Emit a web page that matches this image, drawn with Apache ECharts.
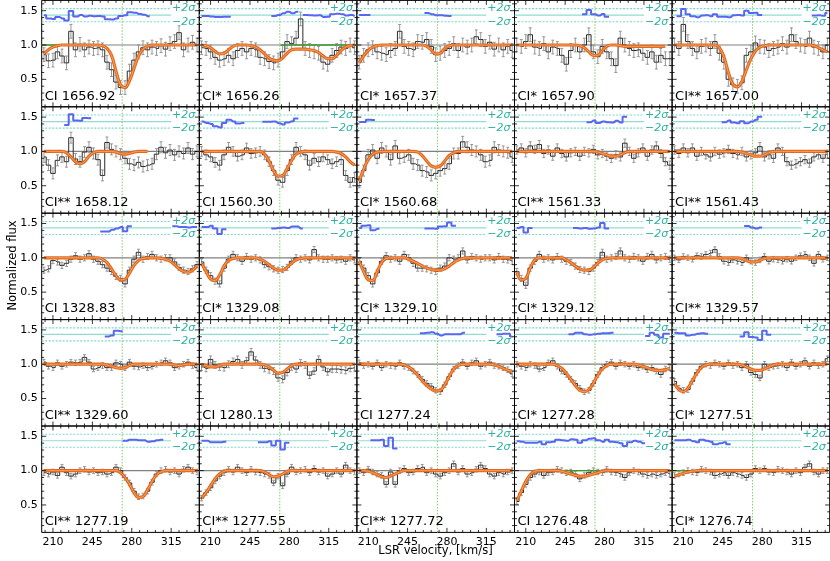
<!DOCTYPE html>
<html>
<head>
<meta charset="utf-8">
<script src="https://cdn.jsdelivr.net/npm/echarts@6/dist/echarts.min.js"></script>
<style>
html,body{margin:0;padding:0;background:#fff;}
#chart_1{width:830px;height:561px;}
</style>
</head>
<body>
<div id="chart_1"></div>
<script>
// velocity bin centres, km/s
var vel = [202,206,210,214,218,222,226,230,234,238,242,246,250,254,258,262,266,270,274,278,282,286,290,294,298,302,306,310,314,318,322,326,330,334,338];

var lineNames = ['CI 1656.92','CI* 1656.26','CI* 1657.37','CI* 1657.90','CI** 1657.00',
	'CI** 1658.12','CI 1560.30','CI* 1560.68','CI** 1561.33','CI** 1561.43',
	'CI 1328.83','CI* 1329.08','CI* 1329.10','CI* 1329.12','CI** 1329.57',
	'CI** 1329.60','CI 1280.13','CI 1277.24','CI* 1277.28','CI* 1277.51',
	'CI** 1277.19','CI** 1277.55','CI** 1277.72','CI 1276.48','CI* 1276.74'];

// normalized flux per panel (same order as lineNames)
var flux = [
	[0.86,0.77,0.78,0.9,0.84,0.74,1.2,0.93,1.01,0.93,0.97,0.95,0.96,0.93,0.75,0.64,0.46,0.38,0.38,0.62,0.78,0.9,0.96,0.93,0.97,0.95,0.99,0.94,1.02,1.05,1.18,0.93,1.0,1.04,1.0],
	[0.96,0.95,0.9,0.82,0.78,0.8,0.85,0.8,0.92,0.95,0.9,0.95,0.93,0.82,0.8,0.76,0.74,0.78,0.9,1.05,1.02,1.1,1.38,0.95,0.92,0.9,0.88,0.75,0.72,0.85,0.92,0.97,0.95,1.0,0.96],
	[0.75,0.85,0.93,0.96,0.9,0.88,0.86,0.92,0.95,1.2,0.98,0.95,0.93,1.05,1.04,1.08,0.98,0.86,0.88,0.92,0.95,1.02,0.92,1.0,0.97,1.0,1.12,1.08,0.98,1.04,0.94,1.0,0.93,0.98,0.92],
	[1.0,0.98,1.05,1.15,0.97,0.95,1.02,0.9,0.97,0.95,0.85,0.72,0.92,1.0,0.9,1.0,1.15,0.9,0.83,0.98,0.9,0.8,0.7,1.1,1.0,0.95,0.92,0.93,0.88,0.82,0.9,0.75,0.85,0.8,0.8],
	[1.0,0.95,1.3,1.05,0.95,0.9,0.98,1.0,0.95,1.05,0.88,0.75,0.5,0.42,0.4,0.45,0.85,0.9,1.03,0.98,0.97,0.92,0.95,0.97,1.02,0.97,1.15,1.05,1.0,0.98,1.1,0.97,0.95,0.9,1.0],
	[0.92,0.8,0.68,0.87,0.92,0.85,1.2,0.89,0.85,0.99,1.06,0.97,0.88,0.65,1.13,1.03,1.0,0.96,0.9,0.82,0.8,0.84,0.78,0.8,0.82,0.96,1.06,0.98,1.02,0.95,1.0,0.97,1.05,0.96,1.0],
	[1.0,0.95,0.92,0.84,0.8,0.95,1.06,1.0,0.93,0.95,1.05,0.97,0.98,1.0,0.95,0.85,0.72,0.58,0.55,0.72,0.88,1.06,1.0,0.95,0.8,0.9,0.85,0.92,0.88,0.82,0.85,0.88,0.65,0.55,0.62],
	[0.55,0.72,0.95,1.02,0.9,1.05,1.0,0.88,1.08,0.9,0.92,0.95,0.82,0.8,0.72,0.7,0.65,0.68,0.72,0.75,0.82,0.97,0.97,1.14,1.06,1.02,1.0,0.95,0.85,0.87,1.06,1.02,1.0,0.98,0.92],
	[1.02,1.05,0.98,1.08,1.03,1.1,0.97,1.02,0.93,1.05,0.97,0.92,0.98,1.0,0.93,1.0,0.98,1.03,0.95,0.97,0.93,0.9,0.95,0.92,1.12,1.0,0.9,0.98,1.05,0.93,1.02,1.08,0.97,0.85,0.8],
	[1.02,0.97,1.05,0.98,1.05,0.93,1.0,0.95,0.92,1.0,0.96,0.98,1.03,0.97,0.95,1.0,0.92,0.95,0.98,1.07,0.92,0.95,0.9,1.05,1.0,0.85,0.8,0.82,0.85,0.88,0.83,0.92,0.95,0.9,0.96],
	[0.82,0.84,0.96,0.94,0.89,0.92,0.98,1.03,0.98,1.0,1.06,0.98,0.95,0.9,0.85,0.8,0.73,0.7,0.62,0.82,0.98,1.08,0.98,1.02,1.05,1.0,0.98,1.0,1.0,0.94,0.86,0.82,0.8,0.84,0.9],
	[0.94,0.82,0.74,0.66,0.62,0.85,0.98,1.05,1.0,0.95,1.02,0.98,1.0,0.97,0.9,0.87,0.84,0.82,0.83,0.86,0.95,1.0,0.98,1.0,0.97,1.12,1.0,0.98,0.98,1.0,0.97,0.98,0.95,1.0,0.97],
	[0.95,0.85,0.74,0.62,0.78,0.95,1.03,0.98,1.0,0.95,1.05,1.0,0.92,0.85,0.85,0.84,0.82,0.8,0.85,0.88,1.0,0.98,1.0,1.1,0.97,1.02,1.0,0.98,1.0,1.0,0.97,1.02,0.98,0.97,0.95],
	[0.8,0.7,0.6,0.85,0.95,1.05,0.98,1.0,0.97,1.02,0.98,0.95,0.93,0.88,0.83,0.82,0.8,0.85,0.93,1.08,0.98,1.0,1.02,1.1,1.0,0.98,1.02,1.0,0.95,1.02,1.05,0.97,1.0,1.02,0.98],
	[1.0,0.97,1.02,1.0,0.98,1.03,1.02,1.05,1.07,1.12,1.02,0.95,0.93,0.97,0.95,0.93,1.0,0.95,0.93,0.97,1.02,0.95,0.98,0.97,0.95,0.98,0.95,1.0,1.03,1.05,1.0,0.92,1.05,0.98,1.0],
	[1.03,0.97,0.95,1.02,0.97,1.0,1.03,1.02,1.03,1.1,1.03,0.93,0.95,0.98,0.95,0.95,1.02,1.0,0.95,1.03,0.97,0.96,0.98,0.95,0.97,1.0,1.02,1.05,1.02,0.95,0.97,1.0,1.03,0.98,0.95],
	[0.96,0.94,1.07,0.99,0.96,0.95,1.0,1.04,1.07,0.99,1.05,1.18,1.06,0.99,0.94,0.92,0.9,0.8,0.78,0.88,0.96,0.93,1.02,0.99,0.84,0.9,1.07,0.96,0.89,0.93,0.93,0.92,0.91,0.94,0.95],
	[1.02,0.98,1.0,0.97,1.02,0.95,1.0,0.98,0.97,1.02,0.97,0.95,0.9,0.85,0.78,0.72,0.68,0.62,0.6,0.7,0.82,0.93,0.98,1.03,0.97,1.02,1.05,0.97,1.0,1.03,0.98,0.97,0.95,0.92,0.86],
	[1.0,0.97,0.95,1.0,0.98,0.93,0.95,1.02,1.05,0.97,0.9,0.85,0.78,0.72,0.65,0.6,0.62,0.72,0.85,0.95,1.0,1.03,0.97,1.02,1.0,0.97,1.0,0.95,0.97,0.92,0.95,0.9,0.85,0.93,0.95],
	[0.75,0.65,0.62,0.63,0.75,0.88,0.97,1.0,0.98,1.02,1.0,0.97,1.02,0.98,1.0,0.95,1.0,0.88,0.85,0.8,1.0,0.95,0.97,0.98,1.0,0.95,1.03,0.97,1.0,1.05,0.97,1.02,0.98,1.0,1.08],
	[0.97,0.95,0.98,0.93,1.05,0.97,0.92,0.95,1.0,1.02,0.98,1.0,0.97,0.98,0.95,0.97,1.05,1.0,0.9,0.82,0.7,0.62,0.63,0.7,0.83,0.95,1.0,1.02,0.98,1.0,0.95,1.02,1.05,1.0,0.98],
	[0.6,0.68,0.75,0.85,0.92,0.97,1.02,0.98,1.05,1.0,0.97,1.02,0.98,0.97,0.95,0.93,0.82,0.92,0.78,0.95,1.05,0.98,1.0,1.02,0.97,1.03,0.98,1.0,0.92,0.95,1.0,0.95,1.08,1.0,0.98],
	[1.0,0.97,1.02,0.98,0.95,0.93,0.8,0.98,0.8,1.0,1.03,0.97,0.98,1.03,1.05,0.97,1.0,0.95,0.92,0.97,1.0,1.1,0.98,1.03,0.95,0.97,1.02,1.08,1.03,0.95,0.92,0.97,0.95,0.98,1.0],
	[0.55,0.68,0.8,0.9,0.95,0.98,0.93,0.97,0.98,1.02,1.0,0.97,0.98,0.95,0.88,0.93,0.97,1.0,0.98,0.97,1.02,0.98,0.97,0.95,0.9,0.97,1.0,0.98,0.95,0.93,0.95,0.93,0.95,0.97,0.95],
	[0.93,0.95,0.97,1.0,0.98,0.97,1.02,1.0,0.98,0.93,0.95,0.97,0.93,0.97,0.95,0.93,0.9,0.95,1.03,1.0,1.03,0.98,0.97,1.02,1.0,0.98,0.95,1.0,0.97,1.05,1.1,0.98,0.95,1.0,1.0]
];

// 1 sigma flux error per panel
var fluxErr = [0.1,0.1,0.1,0.1,0.1, 0.08,0.07,0.08,0.06,0.06, 0.045,0.045,0.045,0.045,0.04, 0.04,0.05,0.04,0.04,0.04, 0.04,0.04,0.04,0.04,0.04];

// fitted profile per panel, null = not drawn
var model = [
	[0.87,0.93,0.97,0.99,1,1,1,1,1,1,1,1,1,0.99,0.95,0.85,0.62,0.42,0.38,0.48,0.66,0.84,0.94,0.98,1,1,1,1,1,1,1,1,1,1,1],
	[1,0.99,0.96,0.91,0.87,0.88,0.93,0.98,1,1,1,0.99,0.97,0.93,0.87,0.81,0.78,0.77,0.81,0.88,0.93,0.94,0.94,0.94,0.93,0.92,0.89,0.84,0.8,0.8,0.85,0.92,0.97,0.99,1],
	[0.74,0.84,0.92,0.97,0.99,1,1,1,1,1,1,1,1,1,1,0.98,0.93,0.87,0.88,0.95,0.99,1,1,1,1,1,1,1,1,1,1,1,1,1,1],
	[1,1,1,1,1,1,1,1,1,1,1,1,1,1,0.99,0.96,0.9,0.85,0.85,0.92,0.98,1,1,0.99,0.98,0.98,0.98,0.98,0.98,0.98,0.98,0.98,0.98,0.98,null],
	[1,1,1,1,1,1,1,1,1,1,0.96,0.83,0.6,0.43,0.39,0.47,0.64,0.8,0.91,0.97,0.99,1,1,1,1,1,1,1,1,1,1,0.99,0.96,0.93,0.9],
	[1,1,1,1,1,0.98,0.92,0.85,0.82,0.85,0.93,0.98,1,1,1,1,0.99,0.97,0.96,0.97,0.99,1,1,1,null,null,null,null,null,null,null,null,null,null,null],
	[1,1,1,1,1,1,1,1,1,1,1,1,1,1,0.96,0.86,0.72,0.64,0.65,0.75,0.87,0.96,0.99,1,1,1,1,1,1,1,0.99,0.97,0.92,0.85,0.8],
	[0.57,0.74,0.88,0.96,0.99,1,1,1,1,1,1,1,1,0.99,0.94,0.86,0.79,0.77,0.79,0.86,0.94,0.98,1,1,1,1,1,1,1,1,1,1,1,1,1],
	[1,1,1,1,1,1,1,1,1,1,1,1,1,1,1,1,1,1,0.99,0.97,0.95,0.93,0.93,0.95,0.98,1,1,1,1,1,1,1,1,1,1],
	[1,1,1,1,1,1,1,1,1,1,1,1,1,1,1,0.99,0.97,0.95,0.93,0.93,0.95,0.98,1,1,1,1,1,1,1,1,1,1,1,1,1],
	[1,1,1,1,1,1,1,1,1,1,1,1,1,0.98,0.93,0.84,0.74,0.68,0.69,0.78,0.89,0.96,0.99,1,1,1,0.99,0.98,0.95,0.9,0.84,0.8,0.79,0.82,0.88],
	[0.92,0.8,0.69,0.67,0.75,0.88,0.96,0.99,1,1,1,1,1,0.98,0.95,0.9,0.85,0.82,0.82,0.86,0.92,0.97,0.99,1,1,1,1,1,1,1,1,1,1,1,1],
	[0.95,0.8,0.68,0.67,0.8,0.93,0.99,1,1,1,1,0.98,0.95,0.92,0.88,0.85,0.83,0.82,0.82,0.84,0.88,0.93,0.97,0.99,1,1,1,1,1,1,1,1,1,1,1],
	[0.8,0.68,0.7,0.85,0.97,1,1,1,1,1,1,0.97,0.93,0.88,0.84,0.82,0.82,0.86,0.92,0.97,0.99,1,1,1,1,1,1,1,1,1,1,1,1,1,1],
	[1,1,1,1,1,1,1,1,1,1,1,1,1,1,1,0.99,0.96,0.94,0.94,0.96,0.99,1,1,1,1,1,1,1,1,1,1,1,1,1,1],
	[1,1,1,1,1,1,1,1,1,1,1,1,1,1,0.99,0.97,0.95,0.94,0.95,0.98,1,1,1,1,1,1,1,1,1,0.99,0.98,0.99,1,1,1],
	[1,0.98,0.96,0.96,0.98,1,1,1,1,1,1,1,1,1,0.99,0.96,0.91,0.87,0.88,0.93,0.98,1,1,1,1,1,1,1,1,1,1,1,1,1,1],
	[1,1,1,1,1,1,1,1,1,1,0.99,0.96,0.91,0.84,0.76,0.69,0.64,0.61,0.62,0.7,0.82,0.93,0.98,1,1,1,1,1,1,1,0.99,0.97,0.94,0.91,0.9],
	[1,1,1,1,1,1,1,1,1,0.98,0.94,0.87,0.78,0.69,0.62,0.6,0.63,0.72,0.84,0.93,0.98,1,1,1,1,1,1,0.99,0.97,0.95,0.92,0.91,0.91,0.92,0.94],
	[0.72,0.63,0.6,0.65,0.76,0.87,0.95,0.99,1,1,1,1,1,1,1,0.99,0.96,0.93,0.91,0.91,0.93,0.96,0.99,1,1,1,1,1,1,1,1,1,1,1,1],
	[1,1,1,1,1,1,1,1,1,1,1,1,1,1,1,1,1,0.97,0.9,0.8,0.68,0.61,0.62,0.72,0.84,0.94,0.98,1,1,1,1,1,1,1,1],
	[0.6,0.68,0.78,0.88,0.95,0.99,1,1,1,1,1,1,1,1,0.98,0.94,0.91,0.92,0.95,0.99,1,1,1,1,1,1,1,1,1,1,1,1,1,1,1],
	[1,1,0.99,0.97,0.94,0.91,0.9,0.92,0.95,0.98,1,1,1,1,1,1,1,1,1,1,1,1,1,1,1,1,1,1,1,1,1,1,1,1,1],
	[0.56,0.7,0.84,0.94,0.99,1,1,1,1,1,0.99,0.97,0.95,0.93,0.92,0.92,0.93,0.95,0.97,0.99,1,1,1,1,1,1,1,1,1,1,1,1,1,1,1],
	[0.92,0.94,0.96,0.98,0.99,1,1,1,1,1,1,1,1,1,1,1,1,1,1,1,1,1,1,1,1,1,1,1,1,1,1,1,1,1,1]
];

// velocity ranges where the residuals are shown
var residWin = [
	[[200,294]], [[200,227],[263,287],[292,340]], [[200,213],[259,283]], [[261,283]], [[204,281],[325,340]],
	[[221,245]], [[200,238],[258,287]], [[200,215]], [[264,298]], [[246,281]],
	[[253,280],[316,340]], [[200,224],[263,293]], [[200,220],[259,287]], [[200,216],[253,283]], [[265,278]],
	[[255,271]], [], [[256,295],[323,340]], [[248,287],[315,340]], [[200,232],[260,287]],
	[[271,307]], [[200,224],[253,278]], [[212,237]], [[200,315]], [[200,253]]
];

// green continuum segments
var contSpan = [[200,215],[272,340],null,null,null, null,null,null,null,null,
	null,null,null,null,null, null,null,null,null,null, null,null,null,[219,340],[200,213]];

var refVel = 271.5;
var xMajor = [210,245,280,315];
var xMinor = [203,217,224,231,238,252,259,266,273,287,294,301,308,322,329,336];
var yMajor = [0.5,1.0,1.5];
var yMinor = [0.2,0.3,0.4,0.6,0.7,0.8,0.9,1.1,1.2,1.3,1.4,1.6];
var sigLevels = [1.53,1.435,1.34];

var FONT = 'DejaVu Sans';
var GL = 41.7, GT = 0.4, GW = 157.6, GH = 106.4;
var VMIN = 200, VMAX = 340, FMIN = 0.1, FMAX = 1.65;
var SIG_END = 315;
var RES_SCALE = 0.03;

// inward ticks on all four sides, placed through the axis scales
function renderTicks(params, api) {
	var kids = [];
	var st = {stroke: '#000', lineWidth: 0.8};
	function xt(v, len) {
		var b = api.coord([v, FMIN]), t = api.coord([v, FMAX]);
		kids.push({type: 'line', shape: {x1: b[0], y1: b[1], x2: b[0], y2: b[1] - len}, style: st});
		kids.push({type: 'line', shape: {x1: t[0], y1: t[1], x2: t[0], y2: t[1] + len}, style: st});
	}
	function yt(v, len) {
		var l = api.coord([VMIN, v]), rr = api.coord([VMAX, v]);
		kids.push({type: 'line', shape: {x1: l[0], y1: l[1], x2: l[0] + len, y2: l[1]}, style: st});
		kids.push({type: 'line', shape: {x1: rr[0], y1: rr[1], x2: rr[0] - len, y2: rr[1]}, style: st});
	}
	xMajor.forEach(function (v) { xt(v, 4.5); });
	xMinor.forEach(function (v) { xt(v, 2.5); });
	yMajor.forEach(function (v) { yt(v, 4.5); });
	yMinor.forEach(function (v) { yt(v, 2.5); });
	return {type: 'group', children: kids};
}

function renderErr(params, api) {
	var v = api.value(0);
	var lo = api.coord([v, api.value(1)]);
	var hi = api.coord([v, api.value(2)]);
	var st = {stroke: '#8c8c8c', lineWidth: 0.9};
	return {type: 'group', children: [
		{type: 'line', shape: {x1: lo[0], y1: lo[1], x2: hi[0], y2: hi[1]}, style: st},
		{type: 'line', shape: {x1: lo[0] - 1.5, y1: lo[1], x2: lo[0] + 1.5, y2: lo[1]}, style: st},
		{type: 'line', shape: {x1: hi[0] - 1.5, y1: hi[1], x2: hi[0] + 1.5, y2: hi[1]}, style: st}
	]};
}

function inWin(v, wins) {
	for (var k = 0; k < wins.length; k++) {
		if (v >= wins[k][0] && v <= wins[k][1]) return true;
	}
	return false;
}

function buildOption() {
	var grids = [], xAxes = [], yAxes = [], series = [], graphics = [];
	var span = FMAX - FMIN;

	for (var p = 0; p < 25; p++) {
		var row = Math.floor(p / 5), col = p % 5;
		var pLeft = GL + col * GW, pTop = GT + row * GH;
		grids.push({left: pLeft, top: pTop, width: GW, height: GH, show: true, borderColor: '#000', borderWidth: 1});

		xAxes.push({
			type: 'value', gridIndex: p, min: VMIN, max: VMAX,
			axisLine: {show: false}, axisTick: {show: false}, splitLine: {show: false},
			axisLabel: {show: row === 4, customValues: xMajor, margin: 4, fontSize: 11, color: '#000', fontFamily: FONT}
		});
		yAxes.push({
			type: 'value', gridIndex: p, min: FMIN, max: FMAX,
			axisLine: {show: false}, axisTick: {show: false}, splitLine: {show: false},
			axisLabel: {show: col === 0, customValues: yMajor, margin: 4, fontSize: 11, color: '#000', fontFamily: FONT,
				formatter: function (v) { return Number(v).toFixed(1); }}
		});

		var f = flux[p], m = model[p], e = fluxErr[p];
		var pts = [], errs = [], mod = [], res = [];
		for (var i = 0; i < vel.length; i++) {
			pts.push([vel[i], f[i]]);
			errs.push([vel[i], f[i] - e, f[i] + e]);
			mod.push([vel[i], m[i]]);
			if (m[i] !== null && inWin(vel[i], residWin[p])) {
				var rv = sigLevels[1] + (f[i] - m[i]) / e * RES_SCALE;
				res.push([vel[i], Math.max(1.3, Math.min(1.57, rv))]);
			} else {
				res.push([vel[i], null]);
			}
		}
		var idx = {xAxisIndex: p, yAxisIndex: p};
		function add(s) { series.push(Object.assign(s, idx)); }

		add({type: 'custom', data: [[VMIN, FMIN]], renderItem: renderTicks, clip: false, silent: true, z: 10});

		// sigma band lines
		add({type: 'line', data: [[VMIN, sigLevels[0]], [SIG_END, sigLevels[0]]], symbol: 'none', silent: true, z: 1,
			lineStyle: {type: [2, 1.5], color: '#7dd8cf', width: 1.1}});
		add({type: 'line', data: [[VMIN, sigLevels[1]], [SIG_END, sigLevels[1]]], symbol: 'none', silent: true, z: 1,
			lineStyle: {type: 'solid', color: '#8fdcd4', width: 1.2}});
		add({type: 'line', data: [[VMIN, sigLevels[2]], [SIG_END, sigLevels[2]]], symbol: 'none', silent: true, z: 1,
			lineStyle: {type: [2, 1.5], color: '#7dd8cf', width: 1.1}});

		// unity level and reference velocity
		add({type: 'line', data: [[VMIN, 1], [VMAX, 1]], symbol: 'none', silent: true, z: 1,
			lineStyle: {color: '#808080', width: 1.2}});
		add({type: 'line', data: [[refVel, FMIN], [refVel, FMAX]], symbol: 'none', silent: true, z: 1,
			lineStyle: {color: '#80cc66', width: 1, type: [1.5, 1.5]}});

		add({type: 'custom', data: errs, renderItem: renderErr, clip: true, silent: true, z: 2});
		add({type: 'line', data: pts, step: 'middle', symbol: 'none', silent: true, z: 3,
			lineStyle: {color: '#2b2b2b', width: 1}});

		if (contSpan[p]) {
			add({type: 'line', data: [[contSpan[p][0], 1], [contSpan[p][1], 1]], symbol: 'none', silent: true, z: 4,
				lineStyle: {color: '#3c9a2c', width: 1.3}});
		}

		add({type: 'line', data: mod, smooth: 0.4, symbol: 'none', silent: true, z: 5,
			lineStyle: {color: '#e5681a', width: 3.2}});
		add({type: 'line', data: mod, smooth: 0.4, symbol: 'none', silent: true, z: 6,
			lineStyle: {color: '#f4b07a', width: 0.8}});

		add({type: 'line', data: res, step: 'middle', symbol: 'none', silent: true, z: 4,
			lineStyle: {color: '#5966f2', width: 2}});

		graphics.push({type: 'text', x: pLeft + 3, y: pTop + GH - 4, silent: true, z: 20,
			style: {text: lineNames[p], font: '13px "DejaVu Sans"', fill: '#000', align: 'left', verticalAlign: 'bottom'}});
		graphics.push({type: 'text', x: pLeft + GW - 4, y: pTop + (FMAX - sigLevels[0]) / span * GH, silent: true, z: 20,
			style: {text: '+2\u03c3', font: 'italic 11px "DejaVu Sans"', fill: '#2ab3a4', align: 'right', verticalAlign: 'middle'}});
		graphics.push({type: 'text', x: pLeft + GW - 4, y: pTop + (FMAX - sigLevels[2]) / span * GH, silent: true, z: 20,
			style: {text: '\u22122\u03c3', font: 'italic 11px "DejaVu Sans"', fill: '#2ab3a4', align: 'right', verticalAlign: 'middle'}});
	}

	graphics.push({type: 'text', x: 435.5, y: 551, silent: true,
		style: {text: 'LSR velocity, [km/s]', font: '11.5px "DejaVu Sans"', fill: '#000', align: 'center', verticalAlign: 'middle'}});
	graphics.push({type: 'text', x: 13.5, y: 265.5, rotation: Math.PI / 2, silent: true,
		style: {text: 'Normalized flux', font: '11.5px "DejaVu Sans"', fill: '#000', align: 'center', verticalAlign: 'middle'}});

	return {
		animation: false,
		backgroundColor: '#fff',
		grid: grids,
		xAxis: xAxes,
		yAxis: yAxes,
		series: series,
		graphic: graphics
	};
}

var myChart = echarts.init(document.getElementById('chart_1'));
myChart.setOption(buildOption());
</script>
</body>
</html>
